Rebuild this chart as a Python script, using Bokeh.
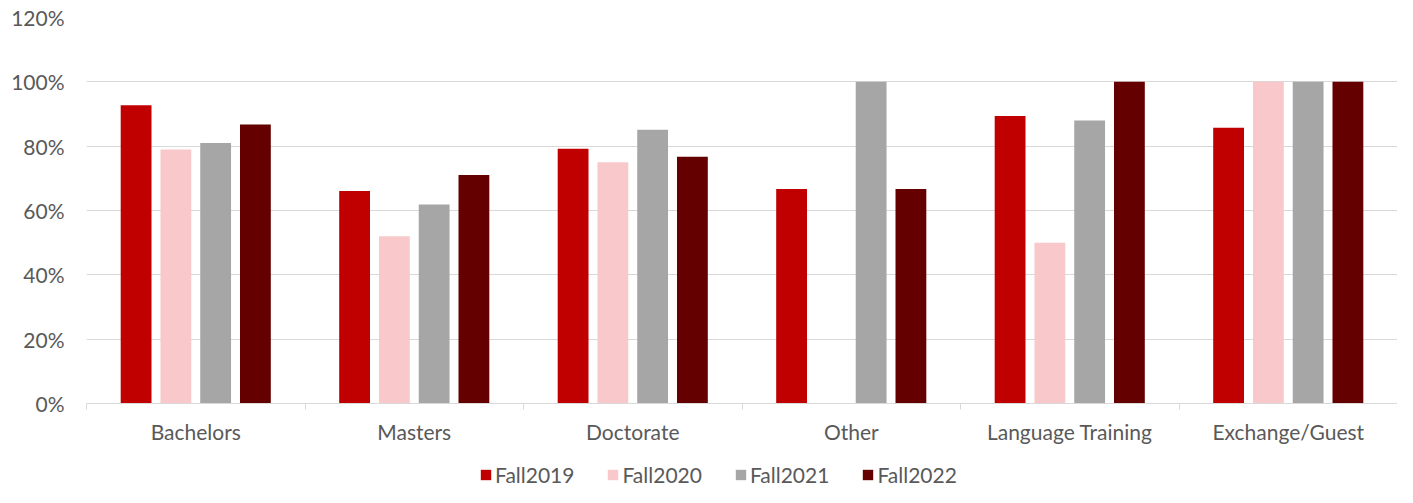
import numpy as np
from bokeh.plotting import figure
from bokeh.layouts import column
from bokeh.models import (Range1d, FixedTicker, NumeralTickFormatter, Legend, LegendItem,
                          ColumnDataSource)
from bokeh.embed import file_html
from bokeh.resources import INLINE

categories = ["Bachelors", "Masters", "Doctorate", "Other", "Language Training", "Exchange/Guest"]
series = ["Fall2019", "Fall2020", "Fall2021", "Fall2022"]
fall2019 = [0.927, 0.661, 0.792, 0.667, 0.894, 0.857]
fall2020 = [0.790, 0.520, 0.750, None, 0.500, 1.000]
fall2021 = [0.810, 0.619, 0.851, 1.000, 0.880, 1.000]
fall2022 = [0.867, 0.710, 0.767, 0.667, 1.000, 1.000]
y_ticks = [0, 0.2, 0.4, 0.6, 0.8, 1.0, 1.2]

colors = ["#C00000", "#F8C8CA", "#A6A6A6", "#650000"]
FONT = "Lato"
FS = "21px"
TXT = "#595959"
GRID = "#D9D9D9"
W = 1397

p = figure(width=W, height=458, output_backend="svg", toolbar_location=None,
           x_range=Range1d(0, len(categories)), y_range=Range1d(0, 1.2),
           min_border_left=86, min_border_right=0, min_border_top=17, min_border_bottom=55)
p.outline_line_color = None
p.background_fill_color = "white"
p.border_fill_color = "white"

step = 0.182
width = 0.141
for i, (name, vals) in enumerate(zip(series, [fall2019, fall2020, fall2021, fall2022])):
    xs = [k + 0.5 + (i - 1.5) * step for k in range(len(categories))]
    tops = [np.nan if v is None else v for v in vals]
    src = ColumnDataSource(dict(x=xs, top=tops))
    p.vbar(x="x", top="top", bottom=0, width=width, source=src,
           fill_color=colors[i], line_color=None)

# y axis
p.yaxis.ticker = FixedTicker(ticks=y_ticks)
p.yaxis.formatter = NumeralTickFormatter(format="0%")
p.yaxis.axis_line_color = None
p.yaxis.major_tick_line_color = None
p.yaxis.minor_tick_line_color = None
p.yaxis.major_tick_out = 0
p.yaxis.major_label_standoff = 22
p.yaxis.major_label_text_font = FONT
p.yaxis.major_label_text_font_size = FS
p.yaxis.major_label_text_color = TXT
p.ygrid.ticker = FixedTicker(ticks=y_ticks)
p.ygrid.grid_line_color = GRID
p.ygrid.grid_line_width = 1
p.xgrid.grid_line_color = None

# x axis
centers = [k + 0.5 for k in range(len(categories))]
p.xaxis.ticker = FixedTicker(ticks=centers, minor_ticks=list(range(len(categories) + 1)))
p.xaxis.major_label_overrides = {c: lab for c, lab in zip(centers, categories)}
p.xaxis.axis_line_color = GRID
p.xaxis.major_tick_line_color = None
p.xaxis.major_tick_out = 6
p.xaxis.major_tick_in = 0
p.xaxis.minor_tick_line_color = GRID
p.xaxis.minor_tick_out = 6
p.xaxis.minor_tick_in = 0
p.xaxis.major_label_standoff = 9
p.xaxis.major_label_text_font = FONT
p.xaxis.major_label_text_font_size = FS
p.xaxis.major_label_text_color = TXT

# legend strip
p2 = figure(width=W, height=29, output_backend="svg", toolbar_location=None,
            x_range=Range1d(0, 1), y_range=Range1d(0, 1),
            min_border_left=0, min_border_right=0, min_border_top=0, min_border_bottom=0)
p2.axis.visible = False
p2.grid.grid_line_color = None
p2.outline_line_color = None
items = []
for name, c in zip(series, colors):
    r = p2.vbar(x=[5], top=[0.5], width=0.1, fill_color=c, line_color=None)
    items.append(LegendItem(label=name, renderers=[r]))
legend = Legend(items=items, orientation="horizontal", location=(393, 0),
                label_text_font=FONT, label_text_font_size=FS, label_text_color=TXT,
                glyph_width=13, glyph_height=13, label_standoff=3, spacing=32,
                padding=0, margin=0, border_line_color=None, background_fill_alpha=0)
p2.add_layout(legend, "center")

layout = column(p, p2, spacing=0)
open("out.html", "w").write(file_html(layout, INLINE))
